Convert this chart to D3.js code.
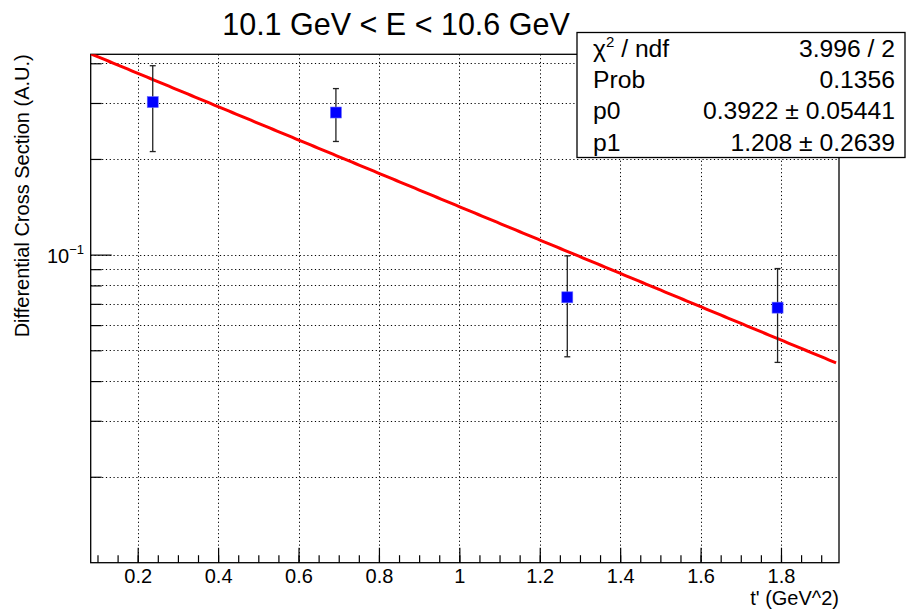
<!DOCTYPE html>
<html>
<head>
<meta charset="utf-8">
<script src="https://cdn.jsdelivr.net/npm/d3@7"></script>
<style>
  html, body { margin: 0; padding: 0; background: #fff; }
  svg { display: block; }
  text { font-family: "Liberation Sans", Arial, Helvetica, sans-serif; }
</style>
</head>
<body>
<svg id="chart" width="906" height="613"></svg>
<script>
// ---- data ----
const tValues   = [0.2374, 0.693, 1.2685, 1.7915];
const xsValues  = [0.302, 0.280, 0.0734, 0.0681];
const xsErrors  = [0.091, 0.053, 0.0257, 0.0223];
const fitParams = [0.3922, 1.208];            // p0, p1  : f(t) = p0*p1*exp(-p1*t)
const fitRange  = [0.0831, 1.937];
const xDomain   = [0.0831, 1.9443];
const yDomain   = [0.01073, 0.4269];
const xMajorTicks = [0.2, 0.4, 0.6, 0.8, 1.0, 1.2, 1.4, 1.6, 1.8];
const xTickLabels = ["0.2", "0.4", "0.6", "0.8", "1", "1.2", "1.4", "1.6", "1.8"];
const xMinorTicks = d3.range(0.1, 1.9001, 0.05);
const yMinorTicks = [0.02, 0.03, 0.04, 0.05, 0.06, 0.07, 0.08, 0.09, 0.2, 0.3, 0.4];
const yMajorTicks = [0.1];
const statsLabels = ["χ2 / ndf", "Prob", "p0", "p1"];
const statsValues = ["3.996 / 2", "0.1356", "0.3922 ± 0.05441", "1.208 ± 0.2639"];
const titleText  = "10.1 GeV < E < 10.6 GeV";
const xTitleText = "t' (GeV^2)";
const yTitleText = "Differential Cross Section (A.U.)";

// ---- layout ----
const L = 90.7, R = 839, T = 54.3, B = 562.7;
const svg = d3.select("#chart");
const x = d3.scaleLinear().domain(xDomain).range([L, R]);
const y = d3.scaleLog().domain(yDomain).range([B, T]);

svg.append("defs").append("clipPath").attr("id", "plotclip")
  .append("rect").attr("x", L).attr("y", T).attr("width", R - L).attr("height", B - T);

// grid
const grid = svg.append("g").attr("stroke", "#000").attr("stroke-width", 1)
  .attr("stroke-dasharray", "1.2,2.6");
grid.selectAll("line.gx").data(xMajorTicks).join("line")
  .attr("x1", d => Math.round(x(d)) + 0.5).attr("x2", d => Math.round(x(d)) + 0.5)
  .attr("y1", T).attr("y2", B);
grid.selectAll("line.gy").data(yMinorTicks.concat(yMajorTicks)).join("line")
  .attr("x1", L).attr("x2", R)
  .attr("y1", d => Math.round(y(d)) + 0.5).attr("y2", d => Math.round(y(d)) + 0.5);

// axes
const xAxis = d3.axisBottom(x).tickValues(xMajorTicks).tickSize(-15)
  .tickFormat((d, i) => xTickLabels[i]).tickPadding(5);
const gx = svg.append("g").attr("transform", `translate(0,${B})`).call(xAxis);
gx.select(".domain").remove();
gx.selectAll(".tick line").attr("stroke", "#000").attr("stroke-width", 1.2);
gx.selectAll(".tick text").attr("font-size", 20).attr("fill", "#000").attr("dy", "0.78em");

const xMinor = d3.axisBottom(x).tickValues(xMinorTicks).tickSize(-7.5).tickFormat("");
const gxm = svg.append("g").attr("transform", `translate(0,${B})`).call(xMinor);
gxm.select(".domain").remove();
gxm.selectAll(".tick line").attr("stroke", "#000").attr("stroke-width", 1.2);

const yMinor = d3.axisLeft(y).tickValues(yMinorTicks).tickSize(-11).tickFormat("");
const gym = svg.append("g").attr("transform", `translate(${L},0)`).call(yMinor);
gym.select(".domain").remove();
gym.selectAll(".tick line").attr("stroke", "#000").attr("stroke-width", 1.2);

const yMajor = d3.axisLeft(y).tickValues(yMajorTicks).tickSize(-21).tickFormat("");
const gyM = svg.append("g").attr("transform", `translate(${L},0)`).call(yMajor);
gyM.select(".domain").remove();
gyM.selectAll(".tick line").attr("stroke", "#000").attr("stroke-width", 1.2);

// y major label 10^-1
yMajorTicks.forEach(v => {
  const exp = Math.round(Math.log10(v));
  const t = svg.append("text").attr("x", 84).attr("y", y(v) + 8)
    .attr("text-anchor", "end").attr("font-size", 20).attr("fill", "#000");
  t.append("tspan").text("10");
  t.append("tspan").attr("font-size", 13).attr("dy", -9).text("−" + Math.abs(exp));
});

// frame
svg.append("rect").attr("x", L).attr("y", T).attr("width", R - L).attr("height", B - T)
  .attr("fill", "none").attr("stroke", "#000").attr("stroke-width", 1.3);

// fit curve
const fitPts = d3.range(0, 201).map(i => {
  const t = fitRange[0] + (fitRange[1] - fitRange[0]) * i / 200;
  return [t, fitParams[0] * fitParams[1] * Math.exp(-fitParams[1] * t)];
});
svg.append("path").datum(fitPts)
  .attr("clip-path", "url(#plotclip)")
  .attr("d", d3.line().x(d => x(d[0])).y(d => y(d[1])))
  .attr("fill", "none").attr("stroke", "#ff0000").attr("stroke-width", 3);

// error bars
const pts = tValues.map((t, i) => ({ t, v: xsValues[i], e: xsErrors[i] }));
const eb = svg.append("g").attr("stroke", "#222").attr("stroke-width", 1.3);
eb.selectAll("line.v").data(pts).join("line")
  .attr("x1", d => x(d.t)).attr("x2", d => x(d.t))
  .attr("y1", d => y(d.v + d.e)).attr("y2", d => y(d.v - d.e));
eb.selectAll("line.c1").data(pts).join("line")
  .attr("x1", d => x(d.t) - 3).attr("x2", d => x(d.t) + 3)
  .attr("y1", d => y(d.v + d.e)).attr("y2", d => y(d.v + d.e));
eb.selectAll("line.c2").data(pts).join("line")
  .attr("x1", d => x(d.t) - 3).attr("x2", d => x(d.t) + 3)
  .attr("y1", d => y(d.v - d.e)).attr("y2", d => y(d.v - d.e));

// markers
svg.append("g").selectAll("rect").data(pts).join("rect")
  .attr("x", d => x(d.t) - 5.5).attr("y", d => y(d.v) - 5.5)
  .attr("width", 11).attr("height", 11)
  .attr("fill", "#0000ff").attr("stroke", "#6a6aff").attr("stroke-width", 0.6);

// title
svg.append("text").attr("x", 396).attr("y", 35).attr("text-anchor", "middle")
  .attr("font-size", 30.5).attr("fill", "#000").text(titleText);

// axis titles
svg.append("text").attr("x", R).attr("y", 605).attr("text-anchor", "end")
  .attr("font-size", 20).attr("fill", "#000").text(xTitleText);
svg.append("text").attr("transform", `translate(29,${T}) rotate(-90)`)
  .attr("text-anchor", "end").attr("font-size", 20).attr("fill", "#000").text(yTitleText);

// stats box
const sbX = 577, sbY = 32.5, sbW = 328, sbH = 125;
svg.append("rect").attr("x", sbX).attr("y", sbY).attr("width", sbW).attr("height", sbH)
  .attr("fill", "#fff").attr("stroke", "#000").attr("stroke-width", 1.3);
const rowH = sbH / statsLabels.length;
statsLabels.forEach((lab, i) => {
  const by = sbY + rowH * (i + 1) - 7;
  const tl = svg.append("text").attr("x", sbX + 16).attr("y", by)
    .attr("font-size", 24.7).attr("fill", "#000");
  if (lab.startsWith("χ2")) {
    tl.append("tspan").text("χ");
    tl.append("tspan").attr("font-size", 15).attr("dy", -10).text("2");
    tl.append("tspan").attr("dy", 10).text(" / ndf");
  } else {
    tl.text(lab);
  }
  svg.append("text").attr("x", 895).attr("y", by).attr("text-anchor", "end")
    .attr("font-size", 24.7).attr("fill", "#000").text(statsValues[i]);
});
</script>
</body>
</html>
